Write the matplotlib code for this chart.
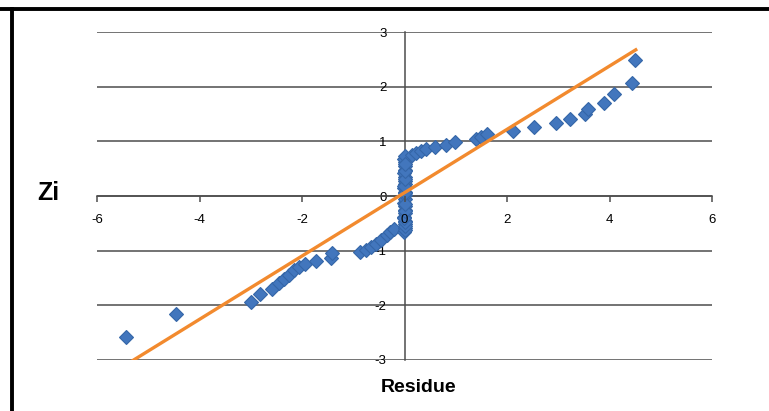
import numpy as np
import matplotlib
matplotlib.use("Agg")
import matplotlib.pyplot as plt

plt.rcParams["axes.unicode_minus"] = False
plt.rcParams["font.family"] = ["Liberation Sans", "DejaVu Sans"]

# residuals vs normal scores
residue = [-5.44, -4.46, -2.99, -2.81, -2.58, -2.45, -2.35, -2.25, -2.15, -2.05, -1.95,
           -1.73, -1.43, -1.42, -0.86, -0.75, -0.65, -0.55, -0.45, -0.35, -0.28, -0.21,
           -0.01, 0.01, 0.0, 0.01, -0.01, 0.0, 0.01, 0.0, -0.01, 0.0, 0.01, 0.0, -0.01,
           0.0, 0.01, 0.0, -0.01, 0.0, 0.01, 0.0, -0.01, 0.0,
           0.0, 0.01, 0.0, -0.01, 0.0, 0.01, 0.0, -0.01, 0.0, 0.01, 0.0,
           0.14, 0.23, 0.32, 0.41, 0.60, 0.80, 0.99, 1.40, 1.50, 1.60, 2.12, 2.53,
           2.96, 3.22, 3.52, 3.58, 3.90, 4.09, 4.43, 4.50]
zi = [-2.58, -2.16, -1.94, -1.80, -1.70, -1.60, -1.52, -1.44, -1.36, -1.30, -1.24,
      -1.19, -1.13, -1.05, -1.03, -0.98, -0.93, -0.87, -0.80, -0.72, -0.66, -0.60,
      -0.65, -0.58, -0.52, -0.45, -0.38, -0.32, -0.25, -0.18, -0.12, -0.05, 0.02,
      0.08, 0.15, 0.22, 0.28, 0.35, 0.42, 0.48, 0.55, 0.62, 0.68, 0.73,
      -0.62, -0.55, -0.48, -0.41, -0.28, -0.15, 0.05, 0.18, 0.31, 0.45, 0.59,
      0.75, 0.79, 0.83, 0.86, 0.89, 0.93, 0.98, 1.04, 1.08, 1.13, 1.19, 1.26,
      1.34, 1.41, 1.50, 1.60, 1.70, 1.86, 2.07, 2.49]

# fitted line end points
fit_x = [-5.44, 4.54]
fit_y = [-3.09, 2.69]

xticks = [-6, -4, -2, 0, 2, 4, 6]
yticks = [-3, -2, -1, 0, 1, 2, 3]

W, H = 769, 411
fig = plt.figure(figsize=(W/100, H/100), dpi=100)
ax = fig.add_axes([97/W, 1 - 360/H, (712-97)/W, (360-32)/H])

ax.plot(residue, zi, linestyle="none", marker="D", markersize=7.2,
        color="#4276BD", markeredgecolor="#3566A8", markeredgewidth=0.8, zorder=3)
ax.plot(fit_x, fit_y, color="#F28A2E", linewidth=2.4, solid_capstyle="butt", zorder=4)

ax.set_xlim(-6, 6)
ax.set_ylim(-3, 3)
ax.set_xticks(xticks)
ax.set_yticks(yticks)

gridc = "#4d4d4d"
ax.grid(axis="y", color=gridc, linewidth=1.1)
for gl in ax.get_ygridlines():
    gl.set_clip_on(False)
ax.set_axisbelow(True)

for s in ["top", "right"]:
    ax.spines[s].set_visible(False)
ax.spines["left"].set_position("zero")
ax.spines["bottom"].set_position("zero")
for s in ["left", "bottom"]:
    ax.spines[s].set_color(gridc)
    ax.spines[s].set_linewidth(1.1)

ax.tick_params(axis="x", direction="out", length=4.5, width=1.1, color=gridc,
               pad=8.5, labelsize=9.5)
ax.tick_params(axis="y", length=0, pad=13, labelsize=9.5)
ax.xaxis.set_zorder(3.5)

fig.text(37/W, 1 - 193/H, "Zi", fontsize=18, fontweight="bold",
         ha="left", va="center")
fig.text(419/W, 1 - 387/H, "Residue", fontsize=14, fontweight="bold",
         ha="center", va="center")

# black frame on top and left
fig.add_artist(plt.Line2D([0, 1], [1 - 9.5/H, 1 - 9.5/H], color="black", linewidth=2.8))
fig.add_artist(plt.Line2D([12/W, 12/W], [0, 1 - 9.5/H], color="black", linewidth=2.8))

fig.savefig("out.png", dpi=100)
